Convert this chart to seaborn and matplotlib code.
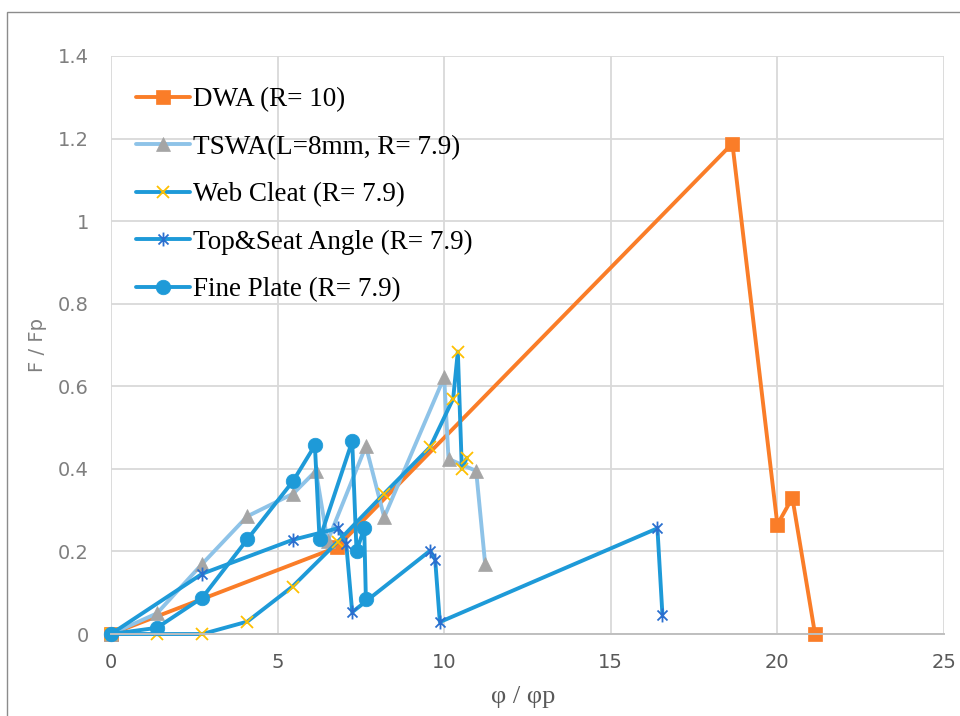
import numpy as np
import pandas as pd
import seaborn as sns
import matplotlib.pyplot as plt
import matplotlib.path as mpath
from matplotlib.patches import Rectangle

# ---- data: rotation ratio (phi / phi_p) vs. force ratio (F / Fp) ----
dwa_x = [0, 6.78, 18.65, 20.0, 20.45, 21.13]
dwa_y = [0, 0.21, 1.188, 0.265, 0.33, 0.0]

tswa_x = [0, 1.38, 2.74, 4.09, 5.47, 6.15, 6.5, 7.65, 8.2, 10.0, 10.13, 10.96, 11.23]
tswa_y = [0, 0.05, 0.17, 0.285, 0.34, 0.395, 0.225, 0.455, 0.283, 0.622, 0.424, 0.395, 0.17]

cleat_x = [0, 1.38, 2.74, 4.09, 5.45, 6.81, 8.2, 9.58, 10.27, 10.41, 10.53, 10.68]
cleat_y = [0, 0.0, 0.0, 0.03, 0.115, 0.224, 0.34, 0.453, 0.57, 0.684, 0.40, 0.427]

tsa_x = [0, 2.74, 5.45, 6.81, 7.06, 7.24, 9.58, 9.73, 9.87, 16.4, 16.55]
tsa_y = [0, 0.146, 0.228, 0.256, 0.219, 0.053, 0.202, 0.18, 0.029, 0.256, 0.047]

plate_x = [0, 1.38, 2.74, 4.09, 5.47, 6.12, 6.26, 7.24, 7.37, 7.6, 7.65]
plate_y = [0, 0.015, 0.088, 0.229, 0.371, 0.457, 0.229, 0.467, 0.2, 0.257, 0.086]

series_labels = ["DWA (R= 10)", "TSWA(L=8mm, R= 7.9)", "Web Cleat (R= 7.9)",
                 "Top&Seat Angle (R= 7.9)", "Fine Plate (R= 7.9)"]

x_ticks = [0, 5, 10, 15, 20, 25]
y_ticks = [0, 0.2, 0.4, 0.6, 0.8, 1.0, 1.2, 1.4]
y_tick_labels = ["0", "0.2", "0.4", "0.6", "0.8", "1", "1.2", "1.4"]

# ---- style ----
sns.set_theme(style="whitegrid")
plt.rcParams["font.family"] = ["Liberation Sans Narrow", "DejaVu Sans"]

ORANGE = "#FA7D28"
BLUE = "#1E9AD8"
LIGHT_BLUE = "#8EC3E8"
GRAY = "#A5A5A5"
YELLOW = "#FFC000"
STAR_BLUE = "#2A6FCF"
TEXT_GRAY = "#595959"
LIGHT_TEXT = "#7F7F7F"

# asterisk marker: vertical stroke plus a diagonal cross
M, L = mpath.Path.MOVETO, mpath.Path.LINETO
asterisk = mpath.Path(
    [(0, -1), (0, 1), (-0.72, -0.72), (0.72, 0.72), (-0.72, 0.72), (0.72, -0.72)],
    [M, L, M, L, M, L],
)

fig = plt.figure(figsize=(9.6, 7.16), dpi=100)
ax = fig.add_axes([0.1156, 0.1145, 0.8677, 0.8073])

lw = 2.8
common = dict(ax=ax, sort=False, estimator=None, clip_on=False)

sns.lineplot(x=dwa_x, y=dwa_y, color=ORANGE, linewidth=lw, marker="s",
             markersize=9.5, markerfacecolor=ORANGE, markeredgecolor=ORANGE,
             markeredgewidth=0.5, label=series_labels[0], **common)
sns.lineplot(x=tswa_x, y=tswa_y, color=LIGHT_BLUE, linewidth=lw, marker="^",
             markersize=10, markerfacecolor=GRAY, markeredgecolor=GRAY,
             markeredgewidth=0.5, label=series_labels[1], **common)
sns.lineplot(x=cleat_x, y=cleat_y, color=BLUE, linewidth=lw, marker="x",
             markersize=9, markerfacecolor=YELLOW, markeredgecolor=YELLOW,
             markeredgewidth=1.3, label=series_labels[2], **common)
sns.lineplot(x=tsa_x, y=tsa_y, color=BLUE, linewidth=lw, marker=asterisk,
             markersize=10, markerfacecolor="none", markeredgecolor=STAR_BLUE,
             markeredgewidth=1.3, label=series_labels[3], **common)
sns.lineplot(x=plate_x, y=plate_y, color=BLUE, linewidth=lw, marker="o",
             markersize=10.5, markerfacecolor=BLUE, markeredgecolor=BLUE,
             markeredgewidth=0.5, label=series_labels[4], **common)

# ---- axes ----
ax.set_xlim(0, 25)
ax.set_ylim(0, 1.4)
ax.set_xticks(x_ticks)
ax.set_yticks(y_ticks)
ax.set_yticklabels(y_tick_labels)
ax.grid(True, color="#D9D9D9", linewidth=1.3)
ax.set_axisbelow(True)
for side in ("left", "right", "top"):
    ax.spines[side].set_visible(False)
ax.spines["bottom"].set_color("#BFBFBF")
ax.spines["bottom"].set_linewidth(1.4)
ax.tick_params(axis="both", length=0, labelsize=14)
ax.tick_params(axis="y", pad=16, labelcolor=LIGHT_TEXT)
ax.tick_params(axis="x", pad=14, labelcolor=TEXT_GRAY)

ax.set_ylabel("F / Fp", fontsize=14, color=LIGHT_TEXT)
ax.yaxis.set_label_coords(-0.077, 0.5)
ax.set_xlabel("φ / φp", fontsize=19, color=TEXT_GRAY, family="Liberation Serif")
ax.xaxis.label.set_va("center")
ax.xaxis.set_label_coords(0.495, -0.109)

leg = ax.legend(loc="upper left", bbox_to_anchor=(0.03, 0.946), frameon=False,
                borderpad=0, borderaxespad=0, handlelength=2.0, handletextpad=0.12,
                labelspacing=0.83, prop={"family": "Liberation Serif", "size": 19.5})
for t in leg.get_texts():
    t.set_color("black")

# chart-area border
fig.patches.append(Rectangle((7 / 960, -0.2), 1.5, 1.2 - 12 / 716, transform=fig.transFigure,
                             fill=False, edgecolor="#8C8C8C", linewidth=1.0))

fig.savefig("out.png", dpi=100)
